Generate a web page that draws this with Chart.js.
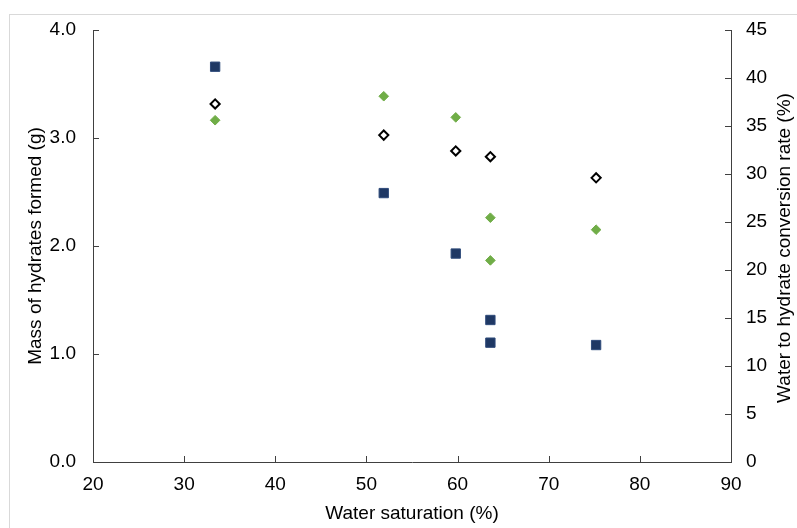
<!DOCTYPE html>
<html>
<head>
<meta charset="utf-8">
<script src="https://cdn.jsdelivr.net/npm/chart.js@4.4.1/dist/chart.umd.min.js"></script>
<style>
html,body{margin:0;padding:0;background:#fff;}
#wrap{position:relative;width:797px;height:528px;}
</style>
</head>
<body>
<div id="wrap"><canvas id="c" width="797" height="528"></canvas></div>
<script>
// Data
const massX = [33.4, 51.9, 59.8, 63.6, 63.6, 75.2];
const massY = [3.66, 2.49, 1.93, 1.315, 1.105, 1.083];

const openX = [33.4, 51.9, 59.8, 63.6, 75.2];
const openY = [37.3, 34.05, 32.4, 31.8, 29.6];

const greenX = [33.4, 51.9, 59.8, 63.6, 63.6, 75.2];
const greenY = [35.6, 38.1, 35.9, 25.45, 21.0, 24.2];

const xTitle = 'Water saturation (%)';
const yTitle = 'Mass of hydrates formed (g)';
const y2Title = 'Water to hydrate conversion rate (%)';

function pts(xs, ys){ return xs.map((x,i)=>({x:x, y:ys[i]})); }

const FONT = "'Liberation Sans', Arial, sans-serif";
const AXIS = '#404040';

const frame = {
  id:'frame',
  beforeDraw(chart){
    const ctx = chart.ctx;
    ctx.save();
    ctx.fillStyle = '#fff';
    ctx.fillRect(0,0,chart.width,chart.height);
    ctx.strokeStyle = '#d9d9d9';
    ctx.lineWidth = 1;
    ctx.strokeRect(9.5, 14.5, 900, 600);
    ctx.restore();
  }
};

const innerTicks = {
  id:'innerTicks',
  afterDatasetsDraw(chart){
    const ctx = chart.ctx;
    const a = chart.chartArea;
    ctx.save();
    ctx.strokeStyle = AXIS;
    ctx.lineWidth = 1;
    ctx.beginPath();
    const L = 6;
    const sx = chart.scales.x;
    sx.ticks.forEach(t=>{
      const p = Math.round(sx.getPixelForValue(t.value)) + 0.5;
      ctx.moveTo(p, a.bottom); ctx.lineTo(p, a.bottom - L);
    });
    const sy = chart.scales.y;
    sy.ticks.forEach(t=>{
      const p = Math.round(sy.getPixelForValue(t.value)) + 0.5;
      ctx.moveTo(a.left, p); ctx.lineTo(a.left + L, p);
    });
    const sy2 = chart.scales.y2;
    sy2.ticks.forEach(t=>{
      const p = Math.round(sy2.getPixelForValue(t.value)) + 0.5;
      ctx.moveTo(a.right, p); ctx.lineTo(a.right - L, p);
    });
    ctx.stroke();
    // right axis title, reading bottom to top
    const s2 = chart.scales.y2;
    ctx.translate(s2.right - 12, (a.top + a.bottom) / 2 + 2);
    ctx.rotate(-Math.PI / 2);
    ctx.fillStyle = '#000';
    ctx.font = '19px ' + FONT;
    ctx.textAlign = 'center';
    ctx.textBaseline = 'middle';
    ctx.fillText(y2Title, 0, 0);
    ctx.restore();
  }
};

new Chart(document.getElementById('c'), {
  type:'scatter',
  data:{
    datasets:[
      {
        label:'Mass',
        data: pts(massX, massY),
        yAxisID:'y',
        pointStyle:'rect',
        pointRadius:6.6,
        backgroundColor:'#1f3864',
        borderColor:'#2e4a7a',
        borderWidth:1
      },
      {
        label:'Conversion (open)',
        data: pts(openX, openY),
        yAxisID:'y2',
        pointStyle:'rectRot',
        pointRadius:4.6,
        backgroundColor:'#ffffff',
        borderColor:'#000000',
        borderWidth:2
      },
      {
        label:'Conversion (green)',
        data: pts(greenX, greenY),
        yAxisID:'y2',
        pointStyle:'rectRot',
        pointRadius:4.8,
        backgroundColor:'#70ad47',
        borderColor:'#70ad47',
        borderWidth:1
      }
    ]
  },
  options:{
    responsive:false,
    animation:false,
    layout:{padding:{top:30, left:0, right:0, bottom:0}},
    plugins:{legend:{display:false}, tooltip:{enabled:false}},
    scales:{
      x:{
        type:'linear', min:20, max:90,
        ticks:{stepSize:10, color:'#000', padding:11, font:{family:FONT, size:19}, maxRotation:0},
        grid:{display:true, drawOnChartArea:false, drawTicks:false},
        border:{display:true, color:AXIS, width:1},
        title:{display:true, text:xTitle, color:'#000', font:{family:FONT, size:19}, padding:{top:0,bottom:3}},
        afterFit(s){ s.height = 66; }
      },
      y:{
        type:'linear', position:'left', min:0, max:4,
        ticks:{stepSize:1, color:'#000', padding:17, font:{family:FONT, size:19}, callback:v=>v.toFixed(1)},
        grid:{display:true, drawOnChartArea:false, drawTicks:false},
        border:{display:true, color:AXIS, width:1},
        title:{display:true, text:yTitle, color:'#000', font:{family:FONT, size:19}, padding:{top:24,bottom:0}},
        afterFit(s){ s.width = 93; }
      },
      y2:{
        type:'linear', position:'right', min:0, max:45,
        ticks:{stepSize:5, color:'#000', padding:15, font:{family:FONT, size:19}},
        grid:{display:true, drawOnChartArea:false, drawTicks:false},
        border:{display:true, color:AXIS, width:1},
        title:{display:false, text:y2Title},
        afterFit(s){ s.width = 66; }
      }
    }
  },
  plugins:[frame, innerTicks]
});
</script>
</body>
</html>
